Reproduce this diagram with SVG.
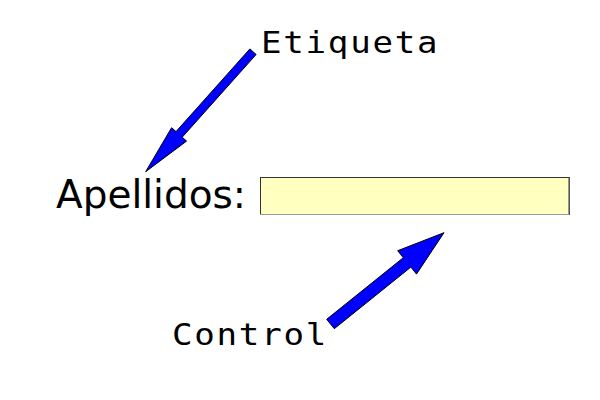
<svg xmlns="http://www.w3.org/2000/svg" width="600" height="400" viewBox="0 0 600 400">
<style>
.mono{font-family:"DejaVu Sans Mono","Liberation Mono",monospace;font-size:31px;letter-spacing:1.6px;fill:#000}
.sans{font-family:"DejaVu Sans","Liberation Sans",sans-serif;font-size:39px;fill:#000}
.arrow{fill:#0000ff;stroke:#000;stroke-width:1;stroke-linejoin:miter}
</style>
<rect width="600" height="400" fill="#fff"/>
<g id="label-etiqueta"><text class="mono" transform="translate(261,53) scale(1.1,1)">Etiqueta</text></g>
<g id="label-apellidos"><text class="sans" x="56" y="208">Apellidos:</text></g>
<g id="input-control">
<rect x="260.5" y="177.5" width="308.5" height="37" fill="#ffffc0" stroke="#333" stroke-width="1"/>
<line x1="260" y1="214.5" x2="569.5" y2="214.5" stroke="#999" stroke-width="1"/>
<line x1="569.5" y1="177" x2="569.5" y2="215" stroke="#555" stroke-width="1"/>
</g>
<g id="label-control"><text class="mono" transform="translate(172,345) scale(1.1,1)">Control</text></g>
<g id="connectors">
<polygon class="arrow" points="256.1,54.5 182.2,137.2 186.6,141.1 145.7,171.7 171.6,127.7 176,131.6 249.9,48.9"/>
<polygon class="arrow" points="334.3,328.7 410.9,267.1 416.5,274.1 444,232.7 397.7,250.7 403.3,257.7 326.7,319.3"/>
</g>
</svg>
